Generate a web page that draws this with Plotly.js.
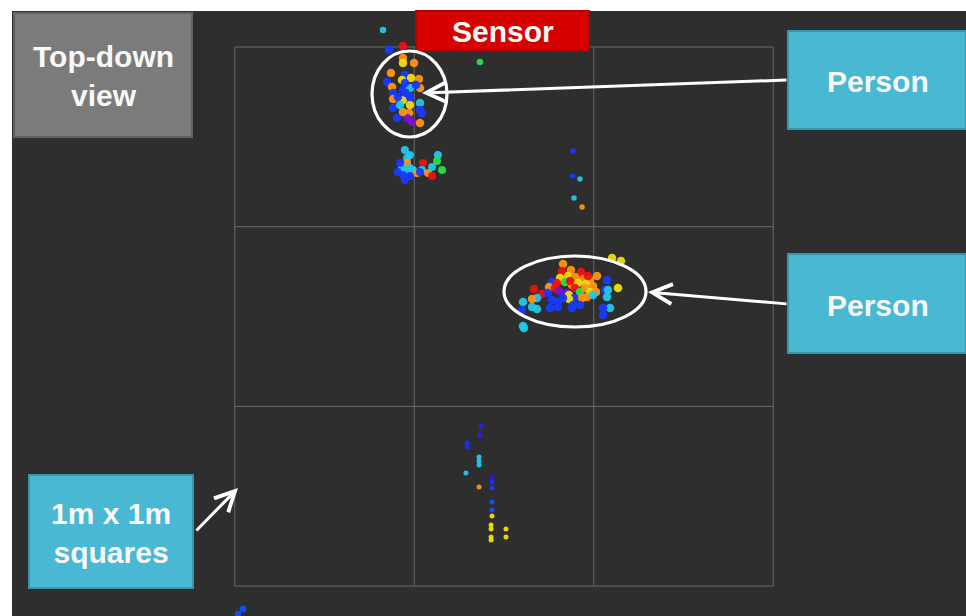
<!DOCTYPE html>
<html>
<head>
<meta charset="utf-8">
<script src="https://cdn.plot.ly/plotly-3.0.1.min.js"></script>
<style>html,body{margin:0;padding:0;background:#fff;}#chart{width:966px;height:616px;}</style>
</head>
<body>
<div id="chart"></div>
<script>
// Point-cloud positions in metres (x: lateral from sensor, y: distance from sensor), h: normalised height (colour)
// Person A (near sensor)
const personA_x = [-0.641,-0.563,-0.563,-0.563,-0.501,-0.630,-0.552,-0.568,-0.518,-0.474,-0.652,-0.624,-0.563,-0.524,-0.468,-0.490,-0.618,-0.618,-0.563,-0.524,-0.468,-0.618,-0.529,-0.457,-0.540,-0.513,-0.468,-0.596,-0.563,-0.524,-0.591,-0.468,-0.552,-0.579,-0.546];
const personA_y = [0.017,-0.006,0.061,0.089,0.089,0.145,0.156,0.184,0.173,0.178,0.195,0.223,0.239,0.228,0.228,0.211,0.256,0.289,0.295,0.323,0.312,0.339,0.367,0.367,0.395,0.417,0.423,0.395,0.362,0.278,0.278,0.351,0.200,0.323,0.256];
const personA_h = [0.15,1.0,0.85,0.72,0.85,0.85,0.15,0.72,0.72,0.85,0.15,0.85,0.15,0.4,0.85,0.15,0.15,0.85,0.72,0.72,0.4,0.15,0.85,0.15,0.0,0.0,0.85,0.15,0.85,0.15,0.15,0.15,0.15,0.4,0.15];
// Cluster just below person A
const clusterB_x = [-0.552,-0.524,-0.540,-0.540,-0.568,-0.591,-0.524,-0.552,-0.552,-0.507,-0.485,-0.451,-0.457,-0.423,-0.401,-0.401,-0.368,-0.373,-0.345,-0.468,-0.579,-0.563,-0.524];
const clusterB_y = [0.573,0.601,0.618,0.646,0.668,0.696,0.673,0.740,0.696,0.684,0.701,0.646,0.684,0.701,0.718,0.668,0.601,0.634,0.684,0.696,0.646,0.712,0.718];
const clusterB_h = [0.4,0.4,0.4,0.85,0.4,0.15,0.4,0.15,0.4,0.4,0.85,1.0,0.4,0.85,1.0,0.4,0.4,0.55,0.55,0.15,0.15,0.15,0.15];
// Person B (middle square)
const personB_x = [0.329,0.323,0.373,0.429,0.602,0.652,0.518,0.312,0.357,0.396,0.440,0.479,0.457,0.496,0.267,0.295,0.340,0.379,0.412,0.396,0.251,0.167,0.212,0.284,0.306,0.351,0.362,0.423,0.451,0.479,0.513,0.563,0.579,0.574,0.635,0.462,0.435,0.390,0.362,0.329,0.496,0.574,0.301,0.267,0.384,0.423,0.106,0.184,0.156,0.156,0.184,0.256,0.301,0.379,0.591,0.552,0.552,0.100,0.106,0.111,0.368,0.245,0.468];
const personB_y = [1.208,1.247,1.241,1.252,1.174,1.191,1.274,1.285,1.274,1.280,1.291,1.297,1.319,1.330,1.308,1.313,1.308,1.324,1.313,1.341,1.336,1.347,1.375,1.341,1.358,1.369,1.380,1.363,1.341,1.363,1.363,1.352,1.352,1.297,1.341,1.391,1.397,1.397,1.402,1.397,1.380,1.391,1.419,1.408,1.436,1.436,1.419,1.397,1.402,1.447,1.458,1.452,1.447,1.452,1.452,1.452,1.491,1.464,1.553,1.564,1.302,1.369,1.274];
const personB_h = [0.85,1.0,0.85,1.0,0.72,0.72,0.85,0.72,0.72,0.85,0.85,0.85,0.72,0.85,0.15,1.0,0.55,0.85,0.72,1.0,0.85,1.0,1.0,1.0,0.0,0.0,0.72,0.55,0.85,0.72,0.85,0.15,0.4,0.15,0.72,0.85,0.85,0.15,0.72,0.15,0.4,0.4,0.15,0.15,0.15,0.15,0.4,0.4,0.85,0.4,0.4,0.15,0.15,0.15,0.4,0.15,0.15,0.15,0.4,0.4,1.0,0.15,1.0];
// Sparse column, right of top square
const sparseR_x = [0.384,0.384,0.423,0.390,0.435];
const sparseR_y = [0.579,0.718,0.735,0.840,0.890];
const sparseR_h = [0.15,0.15,0.4,0.4,0.85];
// Sparse column, bottom square
const sparseBot_x = [-0.128,-0.134,-0.206,-0.206,-0.139,-0.139,-0.139,-0.212,-0.139,-0.067,-0.067,-0.067,-0.067,-0.067,-0.067,-0.072,-0.072,-0.072,-0.072,0.011,0.011];
const sparseBot_y = [2.109,2.159,2.204,2.226,2.282,2.304,2.326,2.371,2.449,2.393,2.421,2.454,2.532,2.577,2.610,2.660,2.682,2.727,2.743,2.682,2.727];
const sparseBot_h = [0.1,0.1,0.12,0.12,0.4,0.4,0.4,0.4,0.85,0.06,0.12,0.15,0.2,0.2,0.72,0.72,0.72,0.72,0.72,0.72,0.72];
// Stray points
const stray_x = [-0.674,-0.134,-1.482,-1.454];
const stray_y = [-0.095,0.083,3.155,3.127];
const stray_h = [0.4,0.55,0.2,0.2];

// Grid of 1 m squares
const gridX = [-1.5,-0.5,0.5,1.5];
const gridY = [0,1,2,3];

// ---- layout helpers (pixel -> paper) ----
const W = 966, H = 616, ML = 12, MT = 11;
const PW = W - ML, PH = H - MT;
const fx = px => (px - ML) / PW;
const fy = py => 1 - (py - MT) / PH;
const PXM = 179.5, PYM = 179.7, CX = 504, CY = 47;

const scale = [
  [0.0,'#7a12d0'],[0.06,'#3a10e0'],[0.12,'#1a2cff'],[0.2,'#1450ff'],[0.3,'#1a90f0'],
  [0.4,'#22c8e8'],[0.55,'#28e048'],[0.72,'#f2dc10'],[0.85,'#ff9414'],[1.0,'#f01010']
];
function trace(x,y,h,size){
  return {type:'scatter',mode:'markers',x:x,y:y,hoverinfo:'skip',showlegend:false,
    marker:{color:h,colorscale:scale,cmin:0,cmax:1,size:size,opacity:0.95,line:{width:0}}};
}
const data = [
  trace(sparseR_x,sparseR_y,sparseR_h,5.5),
  trace(sparseBot_x,sparseBot_y,sparseBot_h,5),
  trace(stray_x,stray_y,stray_h,6.5),
  trace(clusterB_x,clusterB_y,clusterB_h,8),
  trace(personA_x,personA_y,personA_h,8.5),
  trace(personB_x,personB_y,personB_h,8.5)
];

const shapes = [];
const gridCol = '#6a6a6a';
gridX.forEach(v => shapes.push({type:'line',xref:'x',yref:'y',x0:v,x1:v,y0:gridY[0],y1:gridY[gridY.length-1],line:{color:gridCol,width:1},layer:'below'}));
gridY.forEach(v => shapes.push({type:'line',xref:'x',yref:'y',y0:v,y1:v,x0:gridX[0],x1:gridX[gridX.length-1],line:{color:gridCol,width:1},layer:'below'}));

function box(x0,y0,x1,y1,fill,border){
  shapes.push({type:'rect',xref:'paper',yref:'paper',x0:fx(x0),x1:fx(x1),y0:fy(y1),y1:fy(y0),
    fillcolor:fill,line:{color:border,width:2},layer:'above'});
}
box(14,13,192,137,'#7b7b7b','#626262');
box(416,11,589,51,'#d60000','#b40000');
box(788,31,966,129,'#48b8d3','#3796ad');
box(788,254,966,353,'#48b8d3','#3796ad');
box(29,475,193,588,'#48b8d3','#3796ad');

function ellipse(x0,y0,x1,y1){
  shapes.push({type:'circle',xref:'paper',yref:'paper',x0:fx(x0),x1:fx(x1),y0:fy(y1),y1:fy(y0),
    line:{color:'#ffffff',width:3.2},layer:'above'});
}
ellipse(372,51,447,137);
ellipse(504,256,646,327);

const font = {family:'Liberation Sans, Arial, sans-serif',size:30,color:'#f8f8f8'};
function label(txt,cx,cy){
  return {xref:'paper',yref:'paper',x:fx(cx),y:fy(cy),xanchor:'center',yanchor:'middle',
    text:'<b>'+txt+'</b>',showarrow:false,font:font,align:'center'};
}
function arrow(hx,hy,tx,ty){
  return {xref:'paper',yref:'paper',x:fx(hx),y:fy(hy),ax:tx-hx,ay:ty-hy,text:'',showarrow:true,
    arrowhead:5,arrowsize:1.3,arrowwidth:3,arrowcolor:'#ffffff',standoff:0};
}
const annotations = [
  label('Top-down<br>view',103,76),
  label('Sensor',503,32),
  label('Person',878,81),
  label('Person',878,305),
  label('1m x 1m<br>squares',111,533),
  arrow(422,93,788,80),
  arrow(648,292,788,304),
  arrow(238,488,195,532)
];

const layout = {
  width:W,height:H,
  margin:{l:ML,r:0,t:MT,b:0,pad:0},
  paper_bgcolor:'#ffffff',plot_bgcolor:'#2e2e2e',
  xaxis:{range:[(ML-CX)/PXM,(W-CX)/PXM],showgrid:false,zeroline:false,showticklabels:false,showline:false,ticks:'',fixedrange:true},
  yaxis:{range:[(H-CY)/PYM,(MT-CY)/PYM],showgrid:false,zeroline:false,showticklabels:false,showline:false,ticks:'',fixedrange:true},
  shapes:shapes,annotations:annotations,showlegend:false
};
Plotly.newPlot('chart',data,layout,{displayModeBar:false,staticPlot:true});
</script>
</body>
</html>
